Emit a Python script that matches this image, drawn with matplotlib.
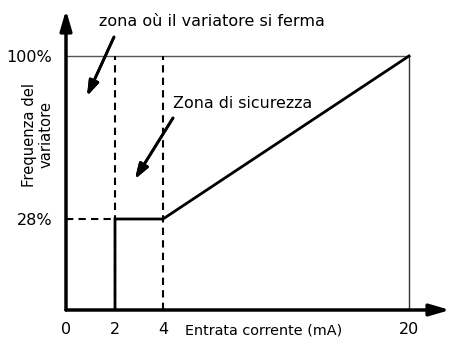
import numpy as np
import matplotlib
matplotlib.use("Agg")
import matplotlib.pyplot as plt

# data (schematic axes: non-linear spacing)
x_ticks = [0, 2, 4, 20]
x_tick_labels = ["0", "2", "4", "20"]
y_ticks = [28, 100]
y_tick_labels = ["28%", "100%"]
curve_x = [2, 2, 4, 20]
curve_y = [0, 28, 28, 100]
zone_edges = [2, 4]
y_min_level = 28
y_max_level = 100
x_max_level = 20

# piecewise mapping so that the picture keeps its schematic spacing
xp_data = [0, 2, 4, 20, 40]
xp_pos = [0, 49, 97, 343, 650.5]
yp_data = [0, 28, 100, 200]
yp_pos = [0, 91, 254, 480.4]

def fx(v):
    return np.interp(v, xp_data, xp_pos)

def ix(v):
    return np.interp(v, xp_pos, xp_data)

def fy(v):
    return np.interp(v, yp_data, yp_pos)

def iy(v):
    return np.interp(v, yp_pos, yp_data)

plt.rcParams['font.family'] = ['DejaVu Sans']

W, H = 451, 340
fig = plt.figure(figsize=(W / 100, H / 100), dpi=100)
ax = fig.add_axes([66 / W, 30 / H, (450 - 66) / W, 300 / H])
ax.set_xscale('function', functions=(fx, ix))
ax.set_yscale('function', functions=(fy, iy))
ax.set_xlim(0, ix(384))
ax.set_ylim(0, iy(300))
for s in ax.spines.values():
    s.set_visible(False)
ax.patch.set_alpha(0)

# frame lines (thin)
ax.plot([0, x_max_level], [y_max_level, y_max_level], color='#555555', lw=1.0)
ax.plot([x_max_level, x_max_level], [0, y_max_level], color='#333333', lw=1.0)

# dashed guide lines
for xe in zone_edges:
    ax.plot([xe, xe], [0, y_max_level], color='black', lw=1.5, ls=(0, (3.5, 2.5)))
ax.plot([0, zone_edges[0]], [y_min_level, y_min_level], color='black', lw=1.5, ls=(0, (3.5, 2.5)))

# curve
ax.plot(curve_x, curve_y, color='black', lw=2.0, solid_joinstyle='miter')

# axes arrows
ax.annotate('', xy=(0, 1.0), xytext=(0, 0), xycoords='axes fraction',
            arrowprops=dict(arrowstyle='-|>,head_length=1.2,head_width=0.35', color='black', lw=2.5,
                            shrinkA=0, shrinkB=0))
ax.annotate('', xy=(1.0, 0), xytext=(0, 0), xycoords='axes fraction',
            arrowprops=dict(arrowstyle='-|>,head_length=1.2,head_width=0.35', color='black', lw=2.5,
                            shrinkA=0, shrinkB=0))

ax.set_xticks(x_ticks)
ax.set_xticklabels(x_tick_labels, fontsize=11.5)
ax.set_yticks(y_ticks)
ax.set_yticklabels(y_tick_labels, fontsize=11.5)
ax.tick_params(length=0)
ax.tick_params(axis='x', pad=9)
ax.tick_params(axis='y', pad=10)
ax.minorticks_off()

# texts
t1 = fig.text(99 / W, 1 - 22 / H, "zona où il variatore si ferma", fontsize=10.5, va='center', ha='left')
t2 = fig.text(173 / W, 1 - 103 / H, "Zona di sicurezza", fontsize=10.5, va='center', ha='left')
t3 = fig.text(185 / W, 1 - 330 / H, "Entrata corrente (mA)", fontsize=10, va='center', ha='left')
t4 = fig.text(38 / W, 1 - 135 / H, "Frequenza del\nvariatore", fontsize=9.5, rotation=90,
              va='center', ha='center', linespacing=1.1, multialignment='center')

# size the texts to the widths seen in the reference
renderer = fig.canvas.get_renderer()
for t, target, vertical in [(t1, 226, False), (t2, 139, False), (t3, 158, False), (t4, 105, True)]:
    bb = t.get_window_extent(renderer)
    size = bb.height if vertical else bb.width
    t.set_fontsize(t.get_fontsize() * target / size)

# pointer arrows
arr = dict(arrowstyle='-|>,head_length=0.9,head_width=0.3', color='black', lw=2.0,
           shrinkA=0, shrinkB=0)
fig.add_artist(plt.annotate('', xy=(87 / W, 1 - 96 / H), xytext=(114 / W, 1 - 37 / H),
                            xycoords='figure fraction', arrowprops=arr))
fig.add_artist(plt.annotate('', xy=(135 / W, 1 - 179 / H), xytext=(173 / W, 1 - 118 / H),
                            xycoords='figure fraction', arrowprops=arr))

fig.savefig('out.png', dpi=100)
